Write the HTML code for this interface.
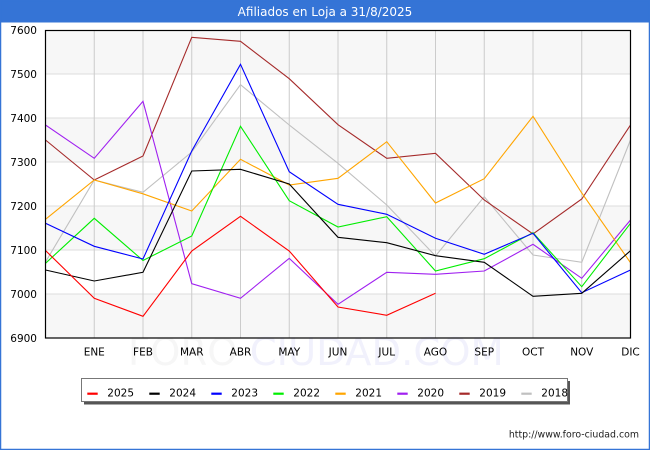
<!DOCTYPE html>
<html><head><meta charset="utf-8"><style>
html,body{margin:0;padding:0;background:#fff;}
svg{display:block;}
text{font-family:"DejaVu Sans","Liberation Sans",sans-serif;}
</style></head><body>
<svg width="650" height="450" viewBox="0 0 650 450" xmlns="http://www.w3.org/2000/svg">
<rect x="0" y="0" width="650" height="450" fill="#fff"/>
<rect x="0" y="0" width="650" height="22.5" fill="#3574d6"/>
<rect x="0.5" y="0.5" width="649" height="449" fill="none" stroke="#3574d6" stroke-width="1.5"/>
<text x="325" y="16" font-size="12" fill="#fff" text-anchor="middle">Afiliados en Loja a 31/8/2025</text>

<!-- bands -->
<rect x="45.5" y="30" width="585" height="44" fill="#f7f7f7"/>
<rect x="45.5" y="118" width="585" height="44" fill="#f7f7f7"/>
<rect x="45.5" y="206" width="585" height="44" fill="#f7f7f7"/>
<rect x="45.5" y="294" width="585" height="44" fill="#f7f7f7"/>

<!-- watermark -->
<text x="128" y="365" font-size="38.5" fill="#f6f6f6"><tspan>FORO </tspan><tspan fill="#f1f1fc">CIUDAD.COM</tspan></text>

<!-- horizontal grid -->
<g stroke="#dddddd" stroke-width="1">
<line x1="45.5" x2="630.5" y1="74" y2="74"/>
<line x1="45.5" x2="630.5" y1="118" y2="118"/>
<line x1="45.5" x2="630.5" y1="162" y2="162"/>
<line x1="45.5" x2="630.5" y1="206" y2="206"/>
<line x1="45.5" x2="630.5" y1="250" y2="250"/>
<line x1="45.5" x2="630.5" y1="294" y2="294"/>
</g>
<!-- vertical grid -->
<g stroke="#cccccc" stroke-width="1">
<line x1="94.25" x2="94.25" y1="30" y2="338"/>
<line x1="143" x2="143" y1="30" y2="338"/>
<line x1="191.75" x2="191.75" y1="30" y2="338"/>
<line x1="240.5" x2="240.5" y1="30" y2="338"/>
<line x1="289.25" x2="289.25" y1="30" y2="338"/>
<line x1="338" x2="338" y1="30" y2="338"/>
<line x1="386.75" x2="386.75" y1="30" y2="338"/>
<line x1="435.5" x2="435.5" y1="30" y2="338"/>
<line x1="484.25" x2="484.25" y1="30" y2="338"/>
<line x1="533" x2="533" y1="30" y2="338"/>
<line x1="581.75" x2="581.75" y1="30" y2="338"/>
</g>

<!-- series -->
<g fill="none" stroke-width="1.1" stroke-linejoin="miter">
<polyline stroke="#c0c0c0" points="45.5,262 94.25,180 143,192.3 191.75,152 240.5,84.7 289.25,125 338,163.3 386.75,205 435.5,256 484.25,196.7 533,255 581.75,262.3 630.5,140"/>
<polyline stroke="#a52a2a" points="45.5,140 94.25,180 143,156 191.75,37.3 240.5,41.3 289.25,78.7 338,124.7 386.75,158.3 435.5,153.3 484.25,200 533,234 581.75,199 630.5,125"/>
<polyline stroke="#a020f0" points="45.5,125 94.25,158.3 143,101.3 191.75,283.7 240.5,298.3 289.25,258.3 338,304.3 386.75,272.3 435.5,274.3 484.25,271 533,244.3 581.75,278.3 630.5,220"/>
<polyline stroke="#ffa500" points="45.5,219.3 94.25,180 143,193.8 191.75,211 240.5,159.3 289.25,185 338,178.3 386.75,141.7 435.5,203 484.25,178.7 533,116.3 581.75,193 630.5,262.7"/>
<polyline stroke="#00ee00" points="45.5,263.3 94.25,218.3 143,260.5 191.75,236 240.5,126.3 289.25,200.7 338,227 386.75,216.7 435.5,271 484.25,258.7 533,232.7 581.75,286.7 630.5,223.3"/>
<polyline stroke="#0000ff" points="45.5,223.3 94.25,246.3 143,259 191.75,151 240.5,64.3 289.25,171.7 338,204.3 386.75,214.3 435.5,238.3 484.25,254.3 533,233.3 581.75,292.7 630.5,270"/>
<polyline stroke="#000000" points="45.5,270 94.25,281 143,272.3 191.75,171 240.5,169.3 289.25,184 338,237.3 386.75,242.7 435.5,255.7 484.25,262.3 533,296.3 581.75,293.3 630.5,250.7"/>
<polyline stroke="#ff0000" points="45.5,250.5 94.25,298.3 143,316.3 191.75,251 240.5,216.3 289.25,251 338,307 386.75,315.3 435.5,293.3"/>
</g>

<!-- plot border -->
<rect x="45.5" y="30.5" width="585" height="307.5" fill="none" stroke="#000" stroke-width="1.2"/>

<!-- y labels -->
<g font-size="10.5" fill="#000" text-anchor="end">
<text x="37" y="33.8">7600</text>
<text x="37" y="77.8">7500</text>
<text x="37" y="121.8">7400</text>
<text x="37" y="165.8">7300</text>
<text x="37" y="209.8">7200</text>
<text x="37" y="253.8">7100</text>
<text x="37" y="297.8">7000</text>
<text x="37" y="341.8">6900</text>
</g>
<!-- x labels -->
<g font-size="10.5" fill="#000" text-anchor="middle">
<text x="94.25" y="355.5">ENE</text>
<text x="143" y="355.5">FEB</text>
<text x="191.75" y="355.5">MAR</text>
<text x="240.5" y="355.5">ABR</text>
<text x="289.25" y="355.5">MAY</text>
<text x="338" y="355.5">JUN</text>
<text x="386.75" y="355.5">JUL</text>
<text x="435.5" y="355.5">AGO</text>
<text x="484.25" y="355.5">SEP</text>
<text x="533" y="355.5">OCT</text>
<text x="581.75" y="355.5">NOV</text>
<text x="630.5" y="355.5">DIC</text>
</g>

<!-- legend -->
<rect x="84" y="381" width="486" height="23.5" fill="#555"/>
<rect x="81.5" y="378.5" width="486" height="23" fill="#fff" stroke="#777" stroke-width="1"/>
<g stroke-width="2.2">
<line x1="87.3" x2="97.7" y1="393.7" y2="393.7" stroke="#ff0000"/>
<line x1="149.3" x2="159.7" y1="393.7" y2="393.7" stroke="#000000"/>
<line x1="211.3" x2="221.7" y1="393.7" y2="393.7" stroke="#0000ff"/>
<line x1="273.3" x2="283.7" y1="393.7" y2="393.7" stroke="#00ee00"/>
<line x1="335.3" x2="345.7" y1="393.7" y2="393.7" stroke="#ffa500"/>
<line x1="397.3" x2="407.7" y1="393.7" y2="393.7" stroke="#a020f0"/>
<line x1="459.3" x2="469.7" y1="393.7" y2="393.7" stroke="#a52a2a"/>
<line x1="521.3" x2="531.7" y1="393.7" y2="393.7" stroke="#c0c0c0"/>
</g>
<g font-size="10.5" fill="#000">
<text x="107.3" y="396.7">2025</text>
<text x="169.3" y="396.7">2024</text>
<text x="231.3" y="396.7">2023</text>
<text x="293.3" y="396.7">2022</text>
<text x="355.3" y="396.7">2021</text>
<text x="417.3" y="396.7">2020</text>
<text x="479.3" y="396.7">2019</text>
<text x="541.3" y="396.7">2018</text>
</g>

<text x="639" y="437.5" font-size="9.4" fill="#222" text-anchor="end">http://www.foro-ciudad.com</text>
</svg>
</body></html>
